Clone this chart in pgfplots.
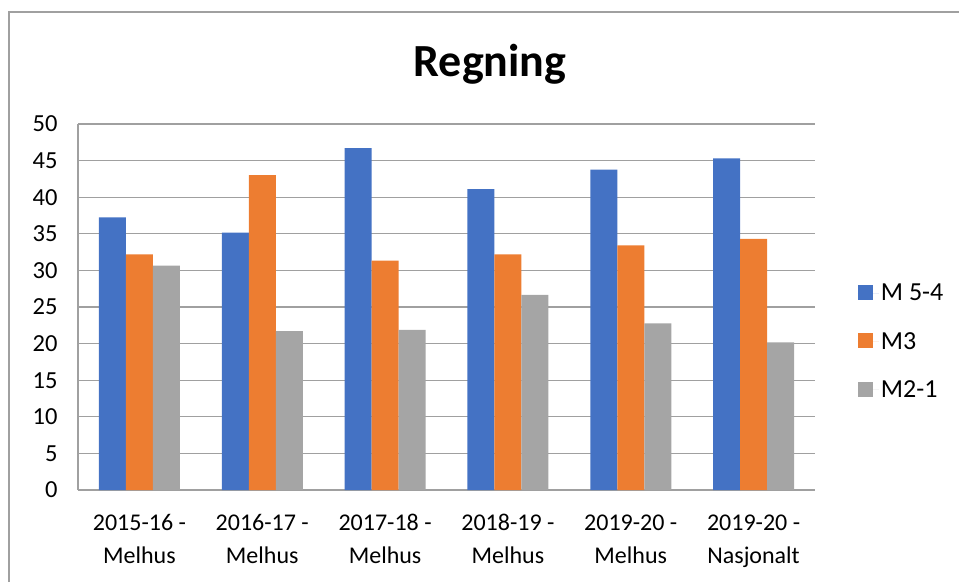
\documentclass[border=0pt]{standalone}
\usepackage{fontspec}
\setmainfont{Carlito}
\usepackage{pgfplots}
\pgfplotsset{compat=1.18}
\definecolor{cblue}{HTML}{4472C4}
\definecolor{corange}{HTML}{ED7D31}
\definecolor{cgray}{HTML}{A5A5A5}
\definecolor{gridc}{RGB}{160,160,160}
\begin{document}
\begin{tikzpicture}[x=1pt,y=1pt]
\useasboundingbox (0,0) rectangle (959,582);
\draw[gridc, line width=1.2pt] (9,0) -- (9,570) -- (959,570);
\node[anchor=base, font=\fontsize{46}{54}\selectfont\bfseries] at (490,505) {Regning};
\begin{axis}[
  at={(78pt,92pt)}, anchor=south west,
  scale only axis, width=737pt, height=366pt,
  ybar=0pt, bar width=27pt,
  xmin=-0.5, xmax=5.5, ymin=0, ymax=50,
  ytick={0,5,...,50},
  xtick={0,1,2,3,4,5},
  xticklabels={{2015-16 -\\Melhus},{2016-17 -\\Melhus},{2017-18 -\\Melhus},{2018-19 -\\Melhus},{2019-20 -\\Melhus},{2019-20 -\\Nasjonalt}},
  axis x line*=bottom, axis y line*=left,
  axis line style={gridc, line width=1.2pt, -},
  major tick length=0pt,
  ymajorgrids, major grid style={gridc, line width=1.2pt},
  /pgf/number format/assume math mode=true,
  y tick label style={font=\fontsize{24.5}{28}\selectfont, xshift=-17pt},
  x tick label style={font=\fontsize{24}{33}\selectfont, align=center, yshift=-21pt},
  legend style={at={(1.058,0.406)}, anchor=west, draw=none, fill=none,
    font=\fontsize{26}{30}\selectfont, row sep=26pt, inner sep=0pt},
  legend cell align=left,
  legend image code/.code={\fill[#1,draw=none] (0pt,-7pt) rectangle (15pt,8pt); \path (0pt,0pt) -- (21pt,0pt);},
]
\addplot[fill=cblue, draw=none] coordinates {(0,37.25) (1,35.15) (2,46.72) (3,41.12) (4,43.76) (5,45.31)};
\addplot[fill=corange, draw=none] coordinates {(0,32.2) (1,43.03) (2,31.33) (3,32.2) (4,33.42) (5,34.29)};
\addplot[fill=cgray, draw=none] coordinates {(0,30.65) (1,21.72) (2,21.86) (3,26.64) (4,22.77) (5,20.17)};
\legend{M 5-4, M3, M2-1}
\end{axis}
\end{tikzpicture}
\end{document}
